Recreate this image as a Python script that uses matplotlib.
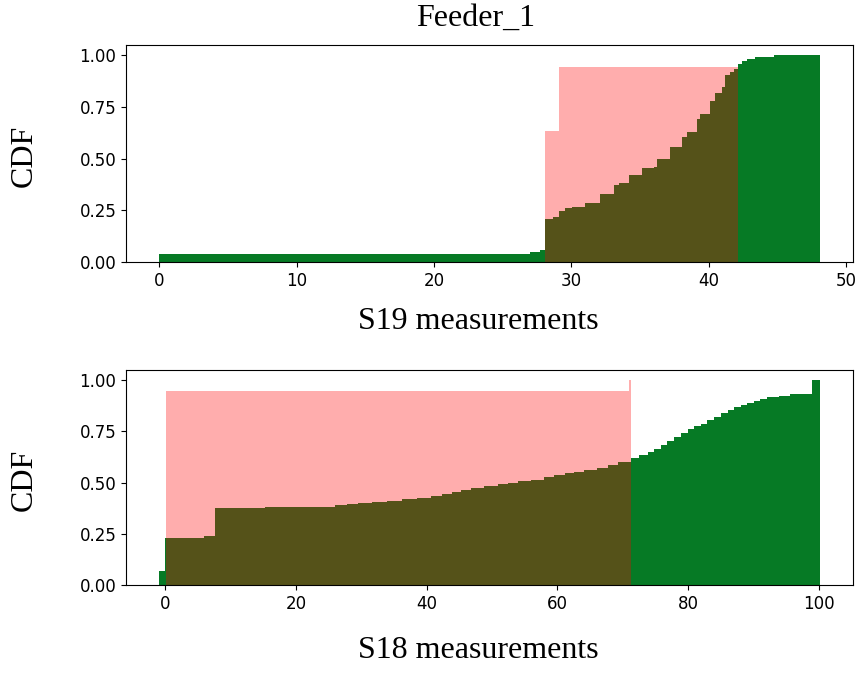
import matplotlib
matplotlib.use("Agg")
import matplotlib.pyplot as plt

# S19 (top panel): green CDF steps
s19_edges = [0.0, 27.0, 27.7, 28.1, 28.7, 29.14, 29.56, 30.04, 31.01, 32.11,
             33.08, 33.44, 34.17, 35.15, 35.99, 36.24, 37.21, 38.06, 38.43,
             39.15, 39.39, 40.12, 40.49, 40.97, 41.22, 41.58, 41.82, 42.11,
             42.43, 42.8, 43.4, 44.74, 48.09]
s19_cdf = [0.036, 0.048, 0.058, 0.206, 0.216, 0.248, 0.259, 0.267, 0.287,
           0.328, 0.372, 0.38, 0.42, 0.456, 0.46, 0.50, 0.557, 0.605, 0.63,
           0.694, 0.718, 0.78, 0.818, 0.847, 0.903, 0.919, 0.935, 0.96,
           0.972, 0.984, 0.992, 1.0]
# S19 pink overlay
s19_pink_edges = [28.1, 29.14, 42.11]
s19_pink_cdf = [0.634, 0.944]

# S18 (bottom panel)
s18_edges = [-0.9, 0.0, 5.9, 7.7, 15.3, 26.0, 27.8, 29.5, 31.6, 34.0, 36.2,
             38.5, 40.7, 42.3, 43.8, 45.3, 46.8, 48.8, 50.9, 52.5, 54.0, 56.0,
             58.0, 59.5, 61.1, 62.6, 64.1, 66.0, 67.7, 69.2, 71.2, 72.5, 73.8,
             74.8, 75.8, 76.8, 77.8, 78.9, 79.9, 80.9, 81.9, 82.9, 83.9, 85.0,
             86.0, 87.0, 88.0, 89.0, 90.0, 91.0, 92.1, 93.8, 95.6, 98.9, 100.1]
s18_cdf = [0.068, 0.231, 0.240, 0.377, 0.382, 0.390, 0.397, 0.402, 0.406,
           0.412, 0.418, 0.426, 0.434, 0.445, 0.455, 0.463, 0.472, 0.483,
           0.493, 0.500, 0.506, 0.515, 0.525, 0.535, 0.545, 0.553, 0.561,
           0.573, 0.585, 0.600, 0.618, 0.633, 0.650, 0.666, 0.683, 0.703,
           0.723, 0.742, 0.760, 0.775, 0.789, 0.805, 0.821, 0.838, 0.854,
           0.868, 0.881, 0.890, 0.899, 0.909, 0.919, 0.926, 0.932, 1.0]
s18_pink_edges = [0.1, 71.0, 71.25]
s18_pink_cdf = [0.948, 1.0]

green = '#067A25'
serif = 'Liberation Serif'

fig = plt.figure(figsize=(8.64, 6.73), dpi=100)
ax1 = fig.add_axes([0.146, 0.611, 0.841, 0.322])
ax2 = fig.add_axes([0.146, 0.131, 0.841, 0.319])

panels = [
    (ax1, s19_edges, s19_cdf, s19_pink_edges, s19_pink_cdf, 'S19 measurements', -0.2765),
    (ax2, s18_edges, s18_cdf, s18_pink_edges, s18_pink_cdf, 'S18 measurements', -0.307),
]

for ax, edges, cdf, pedges, pcdf, xlab, ly in panels:
    ax.stairs(cdf, edges, fill=True, color=green, linewidth=0)
    ax.stairs(pcdf, pedges, fill=True, color='red', alpha=0.32, linewidth=0)
    ax.set_ylim(0, 1.05)
    ax.set_yticks([0.0, 0.25, 0.5, 0.75, 1.0])
    ax.yaxis.set_major_formatter(matplotlib.ticker.FormatStrFormatter('%.2f'))
    ax.tick_params(labelsize=12)
    ax.set_xlabel(xlab, fontsize=23, family=serif)
    ax.xaxis.set_label_coords(0.484, ly)
    ax.xaxis.label.set_va('center')
    ax.set_ylabel('CDF', fontsize=23, family=serif)
    ax.yaxis.set_label_coords(-0.140, 0.488)
    ax.yaxis.label.set_va('center')

ax1.set_xticks([0, 10, 20, 30, 40, 50])
ax2.set_xticks([0, 20, 40, 60, 80, 100])

fig.text(476 / 864, 1 - 18 / 673, 'Feeder_1', fontsize=23, family=serif,
         ha='center', va='center')

fig.savefig('out.png', dpi=100)
